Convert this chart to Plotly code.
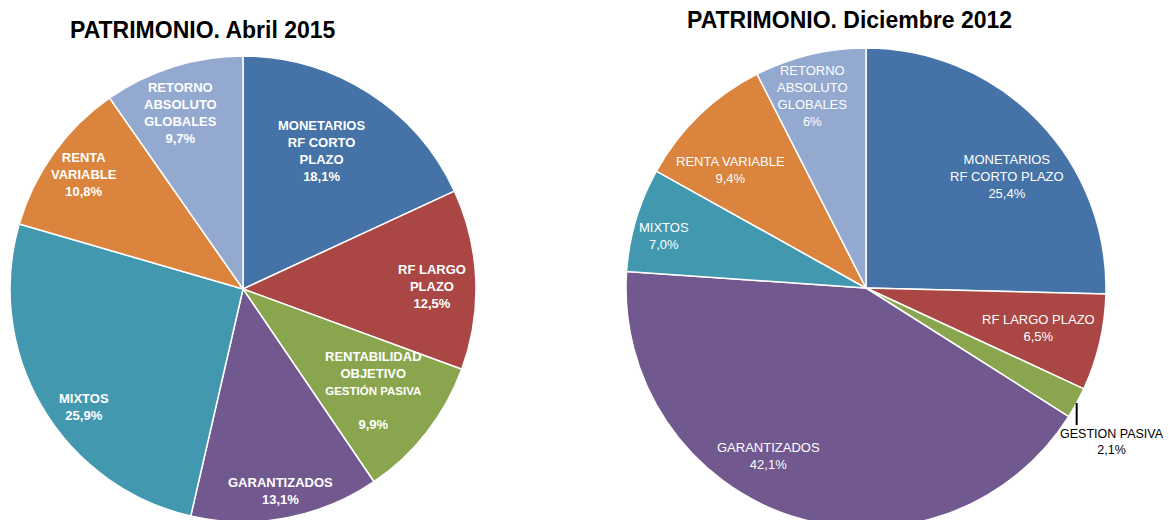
import math
import plotly.graph_objects as go

# ------------------ DATA ------------------
categorias = ["MONETARIOS RF CORTO PLAZO", "RF LARGO PLAZO", "GESTION PASIVA",
              "GARANTIZADOS", "MIXTOS", "RENTA VARIABLE", "RETORNO ABSOLUTO GLOBALES"]
colores = ["#4572A7", "#AA4643", "#89A54E", "#71588F", "#4198AF", "#DB843D", "#93A9CF"]

valores_2015 = [18.1, 12.5, 9.9, 13.1, 25.9, 10.8, 9.7]
etiquetas_2015 = [
    "MONETARIOS<br>RF CORTO<br>PLAZO<br>18,1%",
    "RF LARGO<br>PLAZO<br>12,5%",
    "RENTABILIDAD<br>OBJETIVO<br><span style='font-size:11.5px'>GESTIÓN PASIVA</span><br><br>9,9%",
    "GARANTIZADOS<br>13,1%",
    "MIXTOS<br>25,9%",
    "RENTA<br>VARIABLE<br>10,8%",
    "RETORNO<br>ABSOLUTO<br>GLOBALES<br>9,7%",
]

valores_2012 = [25.4, 6.5, 2.1, 42.1, 7.0, 9.4, 7.5]
etiquetas_2012 = [
    "MONETARIOS<br>RF CORTO PLAZO<br>25,4%",
    "RF LARGO PLAZO<br>6,5%",
    "GESTION PASIVA<br>2,1%",
    "GARANTIZADOS<br>42,1%",
    "MIXTOS<br>7,0%",
    "RENTA VARIABLE<br>9,4%",
    "RETORNO<br>ABSOLUTO<br>GLOBALES<br>6%",
]

# ------------------ LAYOUT HELPERS ------------------
W, H = 1173, 530          # figure is a bit taller than the window: pies are cut at the bottom
OFF = 8                   # page margin around the figure div
FONT = "Liberation Sans Narrow, Arial Narrow, Liberation Sans, Arial, sans-serif"

# pie boxes in page pixels: (center x, center y, radius)
PIE_L = (243, 289, 233)
PIE_R = (866, 288, 240)

# label placement (radius fraction, angle nudge in degrees)
radio_2015 = [0.68, 0.81, 0.71, 0.88, 0.85, 0.84, 0.80]
giro_2015 = [-3, 1.5, 0, 0, -6, 0, -2]
radio_2012 = [0.75, 0.74, None, 0.81, 0.87, 0.75, 0.83]
giro_2012 = [6, 0, 0, 12, -2, -5, -2]


def px(x, y):
    return (x - OFF) / W, 1 - (y - OFF) / H


def dominio(cx, cy, r):
    x0, y1 = px(cx - r, cy - r)
    x1, y0 = px(cx + r, cy + r)
    return {"x": [x0, x1], "y": [y0, y1]}


def punto(pie, valores, i, frac, giro=0):
    cx, cy, r = pie
    total = sum(valores)
    medio = (sum(valores[:i]) + valores[i] / 2) / total * 360 + giro
    a = math.radians(medio)
    return px(cx + frac * r * math.sin(a), cy - frac * r * math.cos(a))


fig = go.Figure()

for pie, valores in [(PIE_L, valores_2015), (PIE_R, valores_2012)]:
    fig.add_trace(go.Pie(
        labels=categorias,
        values=valores,
        sort=False,
        direction="clockwise",
        rotation=0,
        marker=dict(colors=colores, line=dict(color="white", width=1.5)),
        textinfo="none",
        showlegend=False,
        hoverinfo="label+percent",
        domain=dominio(*pie),
    ))

# ------------------ LABELS ------------------
for i, txt in enumerate(etiquetas_2015):
    x, y = punto(PIE_L, valores_2015, i, radio_2015[i], giro_2015[i])
    fig.add_annotation(text=f"<b>{txt}</b>", x=x, y=y, xref="paper", yref="paper",
                       showarrow=False, xanchor="center", yanchor="middle",
                       font=dict(family=FONT, size=13, color="white"))

for i, txt in enumerate(etiquetas_2012):
    if radio_2012[i] is None:
        continue
    x, y = punto(PIE_R, valores_2012, i, radio_2012[i], giro_2012[i])
    fig.add_annotation(text=txt, x=x, y=y, xref="paper", yref="paper",
                       showarrow=False, xanchor="center", yanchor="middle",
                       font=dict(family=FONT, size=13, color="white"))

# outside label for the small slice, with a short leader line
x0, y0 = punto(PIE_R, valores_2012, 2, 1.0)
fig.add_shape(type="line", xref="paper", yref="paper",
              x0=x0, y0=y0, x1=x0, y1=y0 - 22 / H,
              line=dict(color="black", width=2))
fig.add_annotation(text=etiquetas_2012[2], x=x0 + 35 / W, y=y0 - 22 / H,
                   xref="paper", yref="paper", showarrow=False,
                   xanchor="center", yanchor="top",
                   font=dict(family=FONT, size=12.5, color="black"))

# ------------------ TITLES ------------------
tx, ty = px(203, 30)
fig.add_annotation(text="<b>PATRIMONIO. Abril 2015</b>", x=tx, y=ty,
                   xref="paper", yref="paper", showarrow=False,
                   xanchor="center", yanchor="middle",
                   font=dict(family=FONT, size=23, color="black"))
tx, ty = px(849, 20)
fig.add_annotation(text="<b>PATRIMONIO. Diciembre 2012</b>", x=tx, y=ty,
                   xref="paper", yref="paper", showarrow=False,
                   xanchor="center", yanchor="middle",
                   font=dict(family=FONT, size=23, color="black"))

fig.update_layout(
    width=W, height=H,
    margin=dict(t=0, b=0, l=0, r=0),
    paper_bgcolor="white",
    plot_bgcolor="white",
)

fig.write_html("out.html")
